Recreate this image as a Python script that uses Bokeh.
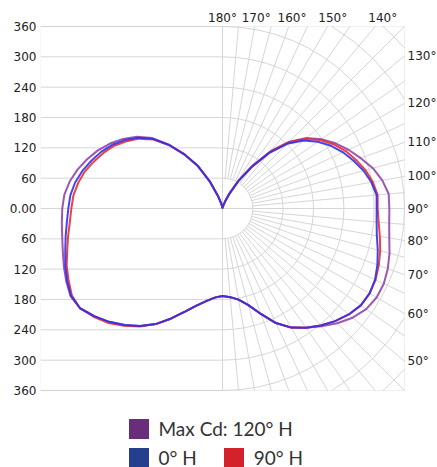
import math
from bokeh.plotting import figure
from bokeh.models import (Range1d, FixedTicker, CustomJSTickFormatter, BoxAnnotation,
                          Legend, LegendItem)
from bokeh.core.properties import value
from bokeh.embed import file_html
from bokeh.resources import INLINE

# ---- data (candela vs vertical angle) ----
angles = [0, 5, 10, 15, 20, 25, 30, 35, 40, 45, 50, 55, 60, 65, 70, 75, 80, 85, 90,
          95, 100, 105, 110, 115, 120, 125, 130, 135, 140, 145, 150, 155, 160, 165, 170, 175, 180]

# right half of the diagram
right_0H = [173, 176, 183, 198, 222, 250, 272, 288, 302, 315, 326, 334, 336, 333, 326, 318, 310, 306, 305,
            306, 299, 289, 276, 263, 248, 230, 209, 181, 143, 99, 62, 32, 14, 6, 3, 1, 0]
right_90H = [173, 176, 183, 198, 222, 250, 272, 288, 302, 315, 326, 334, 336, 334, 329, 323, 316, 310, 307,
             308, 302, 293, 281, 269, 254, 236, 214, 185, 146, 101, 63, 32, 14, 6, 3, 1, 0]
right_max = [173, 176, 183, 198, 222, 250, 272, 288, 304, 321, 336, 347, 352, 352, 348, 342, 335, 331, 330,
             330, 321, 308, 291, 275, 258, 239, 217, 187, 148, 103, 65, 34, 15, 6, 3, 1, 0]
# left half of the diagram
left_0H = [173, 177, 186, 199, 217, 240, 264, 284, 301, 317, 331, 344, 346, 339, 331, 322, 315, 309, 305,
           302, 296, 287, 276, 265, 252, 236, 218, 195, 164, 130, 97, 58, 27, 11, 4, 1, 0]
left_90H = [173, 177, 186, 199, 217, 240, 264, 285, 303, 320, 333, 344, 344, 336, 328, 318, 310, 303, 299,
            296, 290, 282, 271, 260, 248, 232, 215, 193, 163, 130, 97, 58, 27, 11, 4, 1, 0]
left_max = [173, 177, 186, 199, 217, 240, 264, 284, 301, 317, 331, 344, 347, 341, 334, 327, 322, 319, 317,
            314, 307, 297, 285, 272, 257, 240, 221, 197, 165, 130, 97, 58, 27, 11, 4, 1, 0]

y_ticks = [-360, -300, -240, -180, -120, -60, 0, 60, 120, 180, 240, 300, 360]
top_angle_labels = [180, 170, 160, 150, 140]
side_angle_labels = [130, 120, 110, 100, 90, 80, 70, 60, 50]
circle_radii = [60, 120, 180, 240, 300, 360, 420, 480]
ray_angles = list(range(5, 180, 5))

series = [
    ("Max Cd: 120° H", left_max, right_max, "#9444ac", "#6a2d7c"),
    ("90° H", left_90H, right_90H, "#ee2b2b", "#d3222b"),
    ("0° H", left_0H, right_0H, "#3030ee", "#243f8e"),
]

R = 360                      # half size of the diagram box
PX = 364 / 720.0             # pixels per unit
W, H = 437, 467
LEFT = 40                    # room for the y axis labels
FW, FH = W - LEFT, H
x_lo = -R
x_hi = x_lo + FW / PX
y_hi = 208 / PX              # room above the box for the angle labels
y_lo = y_hi - FH / PX

p = figure(frame_width=FW, frame_height=FH, x_range=Range1d(x_lo, x_hi), y_range=Range1d(y_lo, y_hi),
           output_backend="svg", toolbar_location=None, x_axis_location=None,
           min_border_left=LEFT, min_border_right=0, min_border_top=0, min_border_bottom=0)
p.outline_line_color = None
p.xgrid.visible = False
p.ygrid.visible = False

ax = p.yaxis[0]
ax.ticker = FixedTicker(ticks=y_ticks)
ax.formatter = CustomJSTickFormatter(code="return tick == 0 ? '0.00' : Math.abs(tick).toFixed(0);")
ax.major_label_text_font = "DejaVu Sans"
ax.major_label_text_font_size = "12px"
ax.major_label_text_color = "#222222"
ax.major_tick_line_color = None
ax.major_tick_out = 0
ax.major_tick_in = 0
ax.minor_tick_line_color = None
ax.minor_tick_out = 0
ax.axis_line_color = None
ax.major_label_standoff = 4

grid_color = "#d6d6d6"
# horizontal grid on left half (0 line crosses the whole box)
p.segment(x0=[-R] * len(y_ticks), y0=y_ticks,
          x1=[R if t == 0 else 0 for t in y_ticks], y1=y_ticks,
          line_color=grid_color, line_width=1)
# vertical 0/180 line
p.segment(x0=[0], y0=[-R], x1=[0], y1=[R], line_color=grid_color, line_width=1)

# polar circles on right half, clipped to the box
arc_r, arc_s, arc_e = [], [], []
for r in circle_radii:
    if r <= R:
        arc_r.append(r); arc_s.append(-math.pi / 2); arc_e.append(math.pi / 2)
    else:
        a1 = math.acos(R / r)
        a2 = math.asin(R / r)
        for t0, t1 in ((a1, a2), (math.pi - a2, math.pi - a1)):
            if t1 > t0:
                arc_r.append(r); arc_s.append(t0 - math.pi / 2); arc_e.append(t1 - math.pi / 2)
p.arc(x=[0] * len(arc_r), y=[0] * len(arc_r), radius=arc_r, start_angle=arc_s, end_angle=arc_e,
      line_color=grid_color, line_width=1)

# radial lines from the first circle to the box edge
r_in = 60
x0s, y0s, x1s, y1s = [], [], [], []
for a in ray_angles:
    s, c = math.sin(math.radians(a)), math.cos(math.radians(a))
    t = min(R / abs(s) if abs(s) > 1e-9 else 1e9, R / abs(c) if abs(c) > 1e-9 else 1e9)
    x0s.append(r_in * s); y0s.append(-r_in * c); x1s.append(t * s); y1s.append(-t * c)
p.segment(x0=x0s, y0=y0s, x1=x1s, y1=y1s, line_color=grid_color, line_width=1)

# box outline
p.add_layout(BoxAnnotation(left=-R, right=R, bottom=-R, top=R, fill_alpha=0,
                           line_color="#cccccc", line_width=1))

# curves
for name, left, right, lc, sc in series:
    xs = [-r * math.sin(math.radians(a)) for a, r in zip(angles, left)][::-1]
    ys = [-r * math.cos(math.radians(a)) for a, r in zip(angles, left)][::-1]
    xs += [r * math.sin(math.radians(a)) for a, r in zip(angles, right)]
    ys += [-r * math.cos(math.radians(a)) for a, r in zip(angles, right)]
    p.line(xs, ys, line_color=lc, line_width=2, line_alpha=0.9)

# angle labels
ytop = R + 9 / PX
p.text(x=[ytop * math.tan(math.radians(180 - a)) for a in top_angle_labels],
       y=[ytop] * len(top_angle_labels), text=[f"{a}°" for a in top_angle_labels],
       text_align="center", text_baseline="middle", text_font=value("DejaVu Sans"),
       text_font_size="12px", text_color="#222222")
p.text(x=[R + 3 / PX] * len(side_angle_labels),
       y=[-R * math.cos(math.radians(a)) / math.sin(math.radians(a)) for a in side_angle_labels],
       text=[f"{a}°" for a in side_angle_labels],
       text_align="left", text_baseline="middle", text_font=value("DejaVu Sans"),
       text_font_size="12px", text_color="#222222")

# legend swatches (zero-size quads, only used for the legend)
sw = {}
for name, left, right, lc, sc in series:
    sw[name] = p.quad(left=[0], right=[0], top=[0], bottom=[0], fill_color=sc, line_color=None)

common = dict(padding=0, margin=0, border_line_color=None, background_fill_alpha=0,
              glyph_width=25, glyph_height=25, label_height=25, label_standoff=8,
              label_text_font="Lato", label_text_font_size="19px", label_text_color="#333333")
leg1 = Legend(items=[LegendItem(label="Max Cd: 120° H", renderers=[sw["Max Cd: 120° H"]])],
              location=(85.5, 26.5), **common)
leg2 = Legend(items=[LegendItem(label="0° H", renderers=[sw["0° H"]]),
                     LegendItem(label="90° H", renderers=[sw["90° H"]])],
              location=(85.5, -2.5), orientation="horizontal", spacing=24, **common)
p.add_layout(leg1)
p.add_layout(leg2)

open("out.html", "w").write(file_html(p, INLINE))
